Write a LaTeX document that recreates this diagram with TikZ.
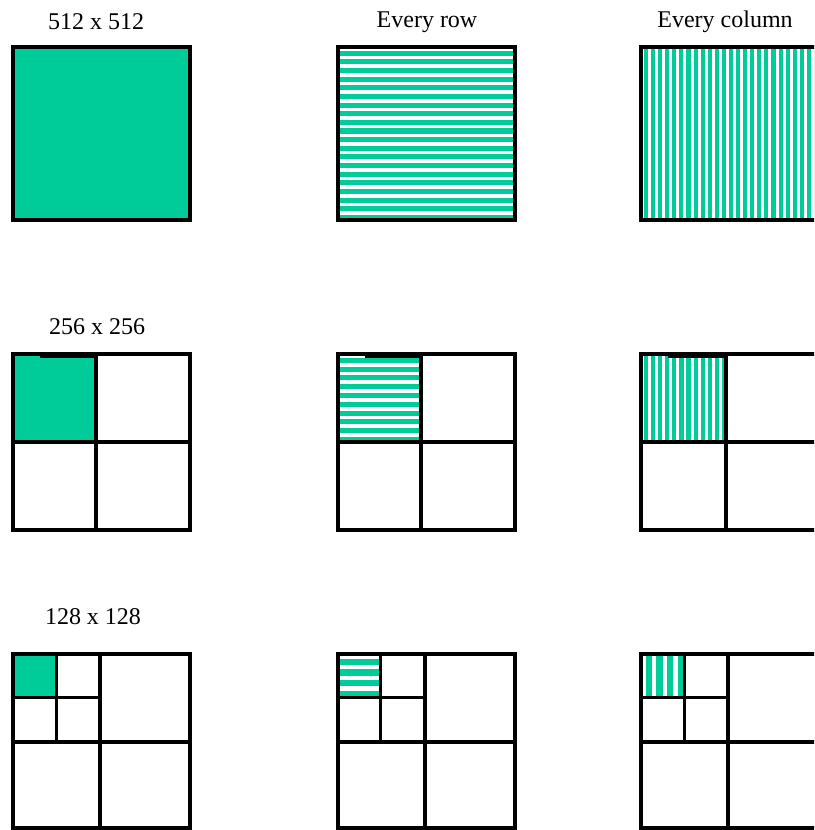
\documentclass[tikz,border=0pt]{standalone}
\usepackage{fontspec}
\setmainfont{Liberation Serif}
\definecolor{grn}{RGB}{0,204,153}
\tikzset{
  frame/.style={line width=4pt, draw=black},
  divline/.style={line width=3.5pt, draw=black},
  smalldiv/.style={line width=3pt, draw=black},
  lbl/.style={font=\fontsize{24}{28}\selectfont, inner sep=0pt, anchor=center}
}
% horizontal stripes: x0 y0 x1 y1 n
\newcommand\hstripes[5]{%
  \fill[grn] (#1,#2) rectangle (#3,#4);
  \foreach \i in {1,...,#5}{%
    \pgfmathsetmacro\ya{#2+(\i-1)*(#4-#2)/#5}%
    \pgfmathsetmacro\yb{\ya+0.42*(#4-#2)/#5}%
    \fill[white] (#1,\ya) rectangle (#3,\yb);
  }}
% vertical stripes
\newcommand\vstripes[5]{%
  \fill[grn] (#1,#2) rectangle (#3,#4);
  \foreach \i in {1,...,#5}{%
    \pgfmathsetmacro\xa{#1+(\i-1)*(#3-#1)/#5}%
    \pgfmathsetmacro\xb{\xa+0.42*(#3-#1)/#5}%
    \fill[white] (\xa,#2) rectangle (\xb,#4);
  }}
\begin{document}
\begin{tikzpicture}[x=1pt,y=-1pt]
\clip (0,0) rectangle (814,830);
\fill[white] (0,0) rectangle (814,830);

% labels
\node[lbl] (l512) at (96,22) {512 x 512};
\node[lbl] (lrow) at (427,22) {Every row};
\node[lbl] (lcol) at (725,22) {Every column};
\node[lbl] (l256) at (97,327) {256 x 256};
\node[lbl] (l128) at (93,617) {128 x 128};

% ---------- row 1 ----------
\fill[grn] (13,47) rectangle (190,220);
\hstripes{338}{47}{515}{220}{20}
\vstripes{641}{47}{818}{220}{25}
\draw[frame] (13,47) rectangle (190,220);
\draw[frame] (338,47) rectangle (515,220);
\draw[frame] (641,47) rectangle (818,220);

% ---------- row 2 ----------
\fill[grn] (13,354) rectangle (96,442);
\hstripes{338}{354}{421}{442}{10}
\vstripes{641}{354}{726}{442}{12}
\foreach \x/\d in {13/96, 338/421, 641/726}{
  \draw[divline] (\d,354) -- (\d,532);
  \draw[divline] (\x,442) -- (\x+177,442);
  \draw[smalldiv] (\x+27,356.5) -- (\d,356.5);
  \draw[frame] (\x,354) rectangle (\x+177,530);
}

% ---------- row 3 ----------
\fill[grn] (13,654) rectangle (56,697);
\hstripes{338}{654}{380}{697}{4}
\vstripes{641}{654}{684}{697}{4}
\foreach \x/\d/\s in {13/100/56, 338/425/380, 641/728/684}{
  \draw[smalldiv] (\s,654) -- (\s,742);
  \draw[smalldiv] (\x,697) -- (\d,697);
  \draw[divline] (\d,654) -- (\d,828);
  \draw[divline] (\x,742) -- (\x+177,742);
  \draw[frame] (\x,654) rectangle (\x+177,828);
}
\end{tikzpicture}
\end{document}
